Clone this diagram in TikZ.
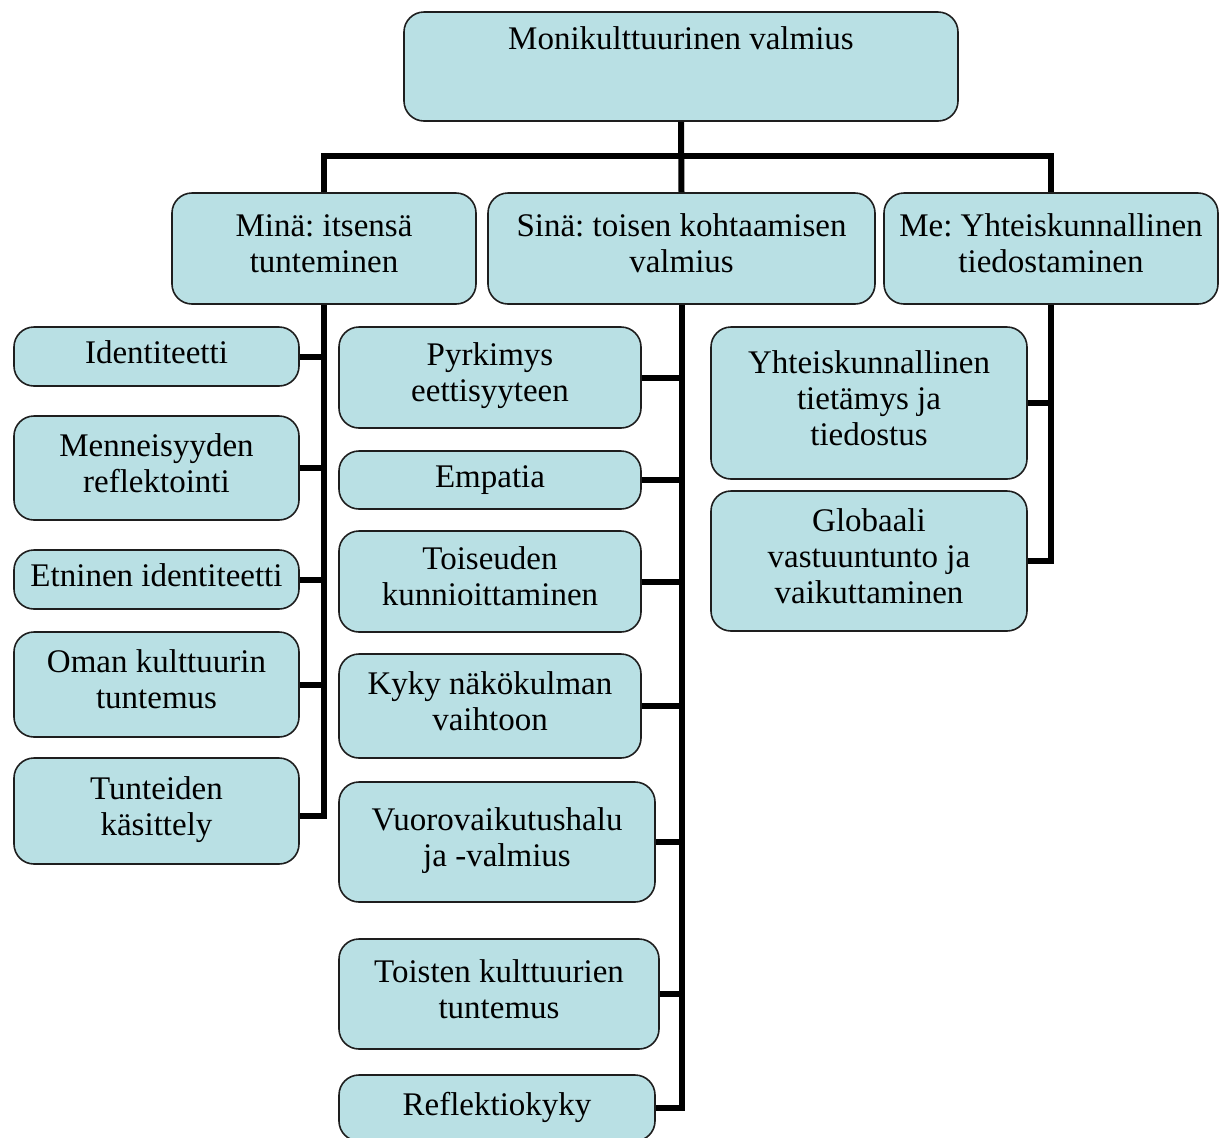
\documentclass[tikz,border=0pt]{standalone}
\usepackage{fontspec}
\setmainfont{Liberation Serif}
\frenchspacing
\definecolor{boxfill}{RGB}{185,224,228}
\definecolor{boxline}{RGB}{30,30,30}
\tikzset{chart/.style={x=0.5pt,y=-0.5pt,font=\fontsize{16.5}{18}\selectfont}}
\tikzset{box/.style={draw=boxline,fill=boxfill,line width=0.8pt,rounded corners=10pt,
                     align=center,inner sep=0pt,
                     execute at begin node=\strut,execute at end node=\strut},
         conn/.style={line width=3pt,black}}
\begin{document}
\begin{tikzpicture}[chart]
    \useasboundingbox (0,0) rectangle (1228,1137);
    % top level
    \node[box,minimum width=277pt,text height=18.5pt,text depth=36pt] (top) at (681,66.5) {Monikulttuurinen valmius};
    \node[box,minimum width=152pt,minimum height=55.5pt]   (mina) at (324,248.5)  {Minä: itsensä\\tunteminen};
    \node[box,minimum width=193.5pt,minimum height=55.5pt] (sina) at (681.5,248.5) {Sinä: toisen kohtaamisen\\valmius};
    \node[box,minimum width=167pt,minimum height=55.5pt]   (me)   at (1051,248.5) {Me: Yhteiskunnallinen\\tiedostaminen};
    % mina
    \node[box,minimum width=142.5pt,minimum height=29.5pt] (ident) at (156.5,356.5) {Identiteetti};
    \node[box,minimum width=142.5pt,minimum height=52pt]   (menn)  at (156.5,468)   {Menneisyyden\\reflektointi};
    \node[box,minimum width=142.5pt,minimum height=29.5pt] (etn)   at (156.5,579.5) {Etninen identiteetti};
    \node[box,minimum width=142.5pt,minimum height=52.5pt] (oman)  at (156.5,684.5) {Oman kulttuurin\\tuntemus};
    \node[box,minimum width=142.5pt,minimum height=53pt]   (tunt)  at (156.5,811)   {Tunteiden\\käsittely};
    % sina
    \node[box,minimum width=151pt,minimum height=50.5pt] (pyrk)  at (490,377.5) {Pyrkimys\\eettisyyteen};
    \node[box,minimum width=151pt,minimum height=29pt]   (emp)   at (490,480)   {Empatia};
    \node[box,minimum width=151pt,minimum height=50.5pt] (tois)  at (490,581.5) {Toiseuden\\kunnioittaminen};
    \node[box,minimum width=151pt,minimum height=52pt]   (kyky)  at (490,706)   {Kyky näkökulman\\vaihtoon};
    \node[box,minimum width=158pt,minimum height=60pt]   (vuoro) at (497,842)   {Vuorovaikutushalu\\ja -valmius};
    \node[box,minimum width=160pt,minimum height=55pt]   (toist) at (499,994)   {Toisten kulttuurien\\tuntemus};
    \node[box,minimum width=158pt,minimum height=33pt]   (refl)  at (497,1108)  {Reflektiokyky};
    % me
    \node[box,minimum width=158pt,minimum height=76pt] (yht)  at (869,403) {Yhteiskunnallinen\\tietämys ja\\tiedostus};
    \node[box,minimum width=158pt,minimum height=70pt] (glob) at (869,561) {Globaali\\vastuuntunto ja\\vaikuttaminen};
    % connectors
    \coordinate (bar) at (681,156);
    \draw[conn] (top.south) -- (sina.north);
    \draw[conn] (mina.north) |- (bar) -| (me.north);
    \draw[conn] (mina.south) |- ([yshift=-2.5pt]tunt.east);
    \foreach \n in {ident,menn,etn,oman} \draw[conn] (\n.east) -- (\n.east -| mina.south);
    \draw[conn] (sina.south) |- (refl.east);
    \foreach \n in {pyrk,emp,tois,kyky,vuoro,toist} \draw[conn] (\n.east) -- (\n.east -| sina.south);
    \draw[conn] (me.south) |- (glob.east);
    \draw[conn] (yht.east) -- (yht.east -| me.south);
  \end{tikzpicture}
\end{document}
